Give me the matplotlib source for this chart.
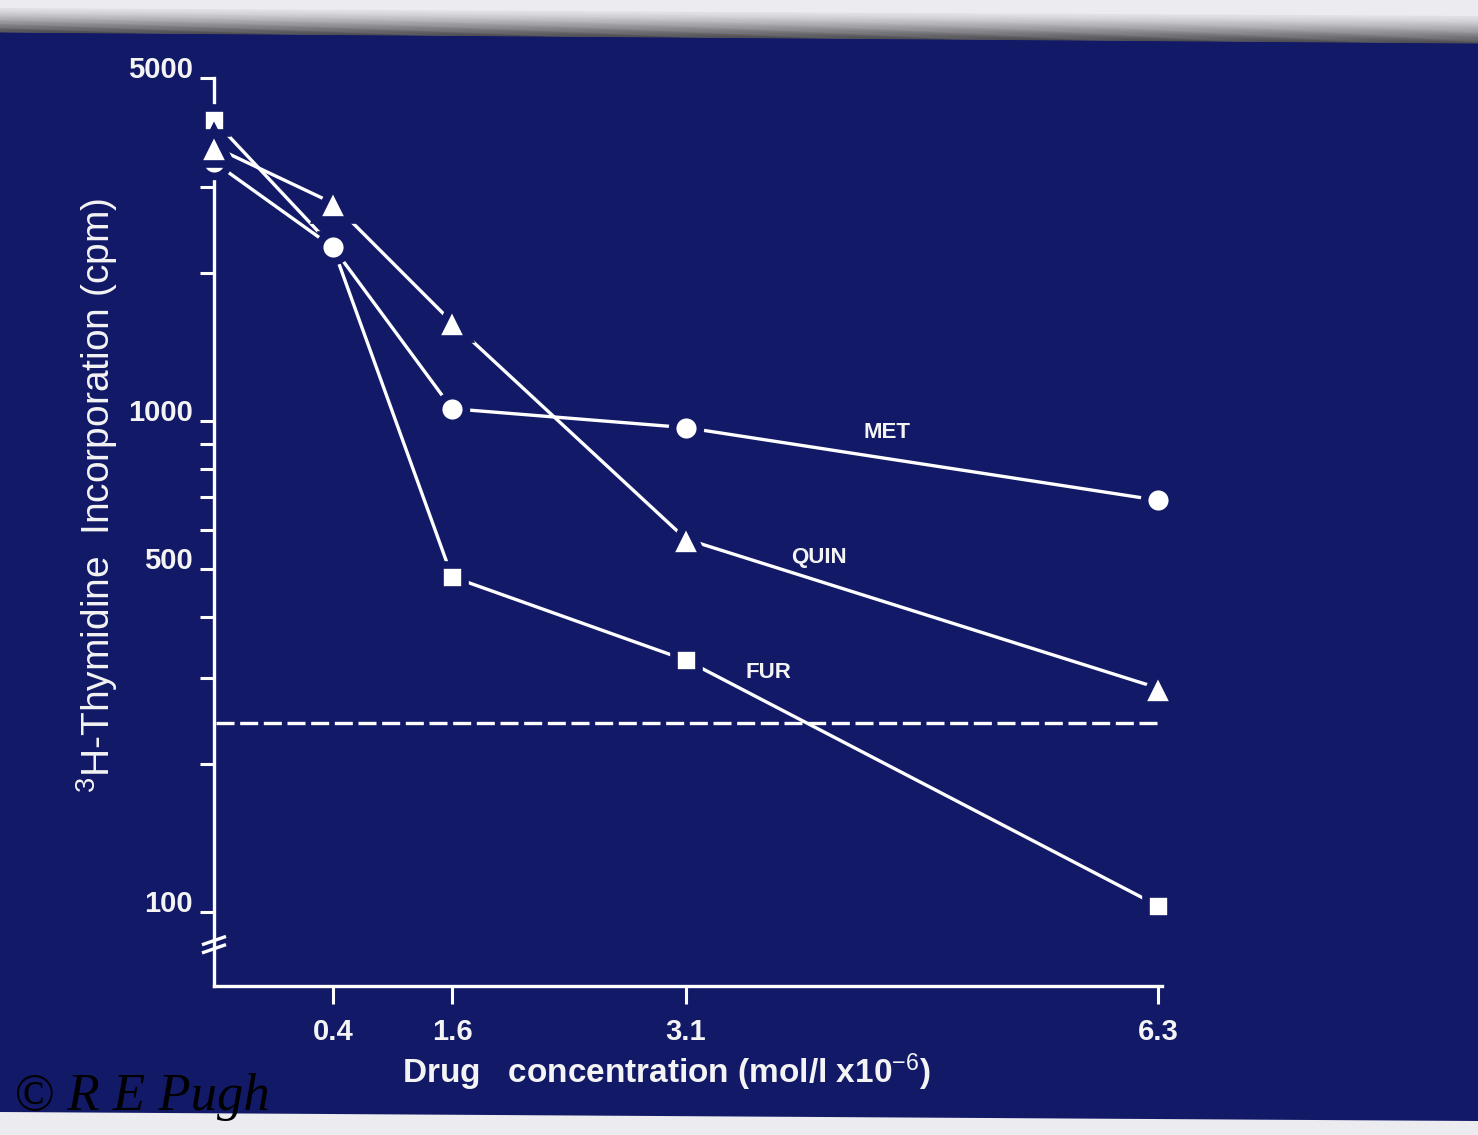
import numpy as np
import matplotlib.pyplot as plt
from matplotlib.patches import Polygon
from matplotlib.ticker import NullFormatter

# slide colours
slide_blue = '#121a68'
ink = '#f4f4f4'

# data
conc = [0, 0.4, 1.6, 3.1, 6.3]
met = [3370, 2260, 1060, 970, 690]
quin = [3620, 2780, 1590, 575, 286]
fur = [4100, 2260, 482, 326, 103]
control_level = 243

tick_conc = [0.4, 1.6, 3.1, 6.3]
tick_text = ['0.4', '1.6', '3.1', '6.3']
y_major = [100, 500, 1000, 5000]
y_major_text = ['100', '500', '1000', '5000']
y_minor = [200, 300, 400, 600, 700, 800, 900, 2000, 3000, 4000]

series_names = ['MET', 'QUIN', 'FUR']
name_x = [4.46, 4.0, 3.66]
name_y = [950, 528, 307]

plt.rcParams['font.family'] = ['Liberation Sans', 'DejaVu Sans']
plt.rcParams['mathtext.fontset'] = 'custom'
plt.rcParams['mathtext.rm'] = 'Liberation Sans'
plt.rcParams['mathtext.it'] = 'Liberation Sans:italic'
plt.rcParams['mathtext.bf'] = 'Liberation Sans:bold'

fig = plt.figure(figsize=(14.78, 11.35), dpi=100)
fig.patch.set_facecolor('#ececf0')

# the slide itself, in pixel units
bg = fig.add_axes([0, 0, 1, 1])
bg.set_xlim(0, 1478)
bg.set_ylim(1135, 0)
bg.axis('off')
bg.add_patch(Polygon([(0, 32), (1478, 43), (1478, 1121), (0, 1112)],
                     closed=True, color=slide_blue, lw=0))
# grey shadow of the slide mount along the top
n = 30
for i in range(n):
    t0, t1 = i / n, (i + 1) / n
    shade = 0.88 - 0.6 * t0 ** 1.3
    bg.add_patch(Polygon([(0, 8 + 24 * t0), (1478, 16 + 27 * t0),
                          (1478, 16 + 27 * t1 + 0.5), (0, 8 + 24 * t1 + 0.5)],
                         closed=True, color=(shade, shade, shade + 0.02), lw=0))

# the x axis on the slide is hand spaced, so map concentration to position
knots_c = [-1, 0, 0.4, 1.6, 3.1, 6.3, 8]
knots_p = [-150, 0, 119, 238, 472, 944, 1195]


def fwd(x):
    return np.interp(x, knots_c, knots_p)


def inv(p):
    return np.interp(p, knots_p, knots_c)


ax = fig.add_axes([214 / 1478, (1135 - 986) / 1135, 948.4 / 1478, (986 - 78) / 1135])
ax.set_facecolor('none')
ax.set_xscale('function', functions=(fwd, inv))
ax.set_yscale('log')
ax.set_xlim(0, 6.33)
ax.set_ylim(70.7, 5000)

# FUR first so the MET circle sits on top at 0.4, QUIN last
for vals, m, ms in zip([fur, met, quin], ['s', 'o', '^'], [18, 20, 24]):
    ax.plot(conc, vals, color='white', lw=2.4, marker=m, ms=ms,
            mfc='white', mec=slide_blue, mew=5.5, clip_on=False, zorder=3)

ax.axhline(control_level, xmin=0.002, xmax=1, color='white', lw=2.4,
           ls=(0, (5.4, 1.7)), zorder=2)

for name, x, y in zip(series_names, name_x, name_y):
    ax.text(x, y, name, color=ink, fontsize=16, fontweight='bold',
            ha='center', va='center')

for side in ['top', 'right']:
    ax.spines[side].set_visible(False)
for side in ['left', 'bottom']:
    ax.spines[side].set_color('white')
    ax.spines[side].set_linewidth(2.4)

ax.set_yticks(y_major, y_major_text)
ax.set_yticks(y_minor, minor=True)
ax.yaxis.set_minor_formatter(NullFormatter())
ax.set_xticks(tick_conc, tick_text)
ax.xaxis.set_minor_locator(plt.NullLocator())
ax.tick_params(axis='both', which='both', colors='white', width=2.2,
               direction='out', labelcolor=ink)
ax.tick_params(axis='y', which='both', length=10, pad=5, labelsize=21)
ax.tick_params(axis='x', length=13, pad=10, labelsize=21)
for lbl in ax.get_yticklabels():
    lbl.set_fontweight('bold')
    lbl.set_va('baseline')
for lbl in ax.get_xticklabels():
    lbl.set_fontweight('bold')

# axis break on the y axis
for yb in [0.050, 0.041]:
    ax.plot([-0.011, 0.011], [yb - 0.004, yb + 0.004], transform=ax.transAxes,
            color='white', lw=2.4, clip_on=False, zorder=4)

fig.text(97 / 1478, 1 - 495 / 1135, '$^{3}$H-Thymidine  Incorporation (cpm)',
         rotation=90, ha='center', va='center', color=ink, fontsize=28)
fig.text(666 / 1478, 1 - 1072 / 1135, 'Drug   concentration (mol/l x10$^{-6}$)',
         ha='center', va='center', color=ink, fontsize=24, fontweight='bold')

fig.text(14 / 1478, 1 - 1110 / 1135, '\u00a9 R E Pugh', color='black',
         fontsize=38, family='Liberation Serif', style='italic',
         ha='left', va='baseline')

fig.savefig('out.png', dpi=100)
